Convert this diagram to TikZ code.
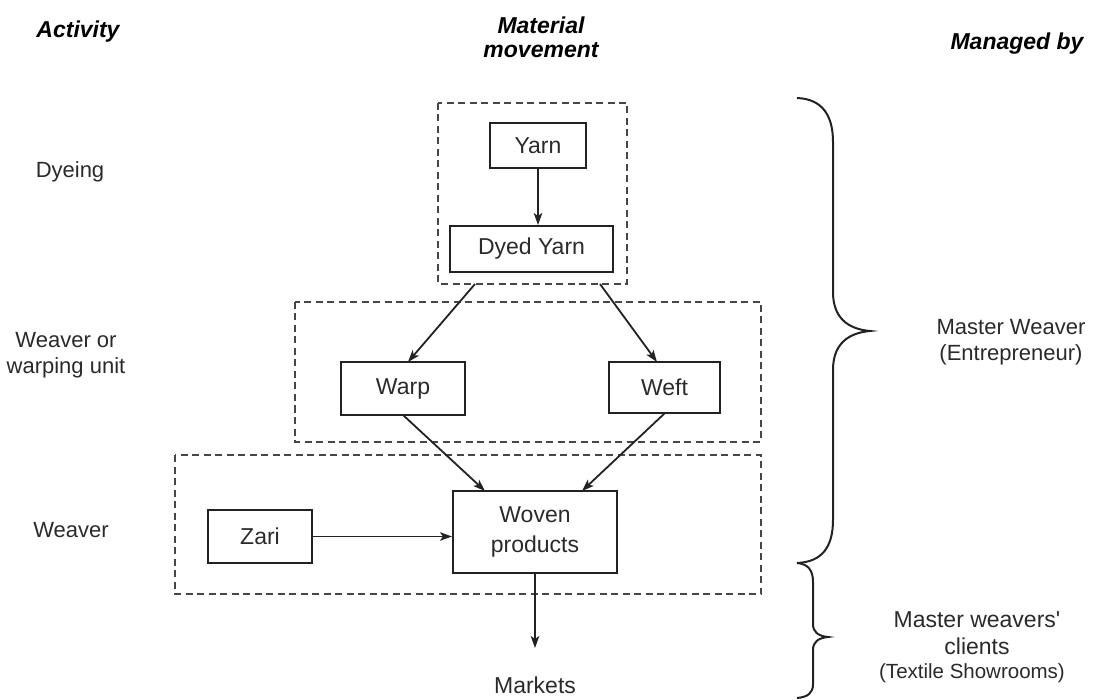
\documentclass[tikz,border=0pt]{standalone}
\usepackage{fontspec}
\setmainfont{Liberation Sans}
\newfontfamily\nomap{Liberation Sans}
\usetikzlibrary{arrows.meta}
\definecolor{ink}{HTML}{222222}
\definecolor{dashc}{HTML}{474747}
\definecolor{txt}{HTML}{2A2A2A}
\tikzset{
  box/.style={draw=ink, line width=2pt, inner sep=0pt, text=txt, font=\fontsize{23}{30}\selectfont, align=center},
  grp/.style={draw=dashc, line width=2pt, dash pattern=on 7pt off 4.5pt},
  arr/.style={draw=ink, line width=1.8pt, -{Stealth[length=12pt,width=8.5pt,inset=3pt]}},
  lbl/.style={text=txt, font=\fontsize{22}{26}\selectfont, align=center, inner sep=0pt},
  hdr/.style={text=black, font=\bfseries\itshape\fontsize{23}{24}\selectfont, align=center, inner sep=0pt},
  bracepath/.style={draw=ink, line width=2pt}
}
\begin{document}
\begin{tikzpicture}[x=1pt,y=-1pt]
\useasboundingbox (0,0) rectangle (1095,700);

% headers
\node[hdr] (hact) at (78,32) {Activity};
\node[hdr] (hmat) at (541,37) {Material\\movement};
\node[hdr] (hman) at (1017,44) {Managed by};

% activity labels
\node[lbl] (ldye) at (70,172) {Dyeing};
\node[lbl] (lwarp) at (66,355) {Weaver or\\warping unit};
\node[lbl] (lweav) at (71,530) {Weaver};

% group frames
\draw[grp] (438,103) rectangle (627,284);
\draw[grp] (295,302) rectangle (761,442);
\draw[grp] (175,455) rectangle (761,594);

% boxes
\node[box, minimum width=96pt, minimum height=45pt] (yarn) at (538,145.5) {Yarn};
\node[box, minimum width=163pt, minimum height=46pt] (dyed) at (531.5,249) {Dyed Yarn};
\node[box, minimum width=124pt, minimum height=53pt] (warp) at (403,388.5) {Warp};
\node[box, minimum width=111pt, minimum height=51pt] (weft) at (664.5,387.5) {Weft};
\node[box, minimum width=164pt, minimum height=82pt] (woven) at (535,532) {Woven\\products};
\node[box, minimum width=104pt, minimum height=53pt] (zari) at (260,536.5) {Zari};
\node[lbl, font=\fontsize{23}{26}\selectfont] (mkt) at (535,685) {Markets};

% connector end points
\coordinate (s1) at (475,284);
\coordinate (s2) at (600,284);
\coordinate (t1) at (408,362);
\coordinate (t2) at (657,362);
\coordinate (u1) at (403,415);
\coordinate (u2) at (665,413);
\coordinate (v1) at (485,491);
\coordinate (v2) at (582,491);
\coordinate (mtop) at (535,648);

% connectors
\draw[arr] (yarn.south) -- (dyed.north -| yarn.south);
\draw[arr] (s1) -- (t1);
\draw[arr] (s2) -- (t2);
\draw[arr] (u1) -- (v1);
\draw[arr] (u2) -- (v2);
\draw[arr] (zari.east) -- (zari.east -| woven.west);
\draw[arr] (woven.south) -- (mtop);

% braces
\draw[bracepath] (797,98) .. controls (822,99) and (833,115) .. (833,142)
  -- (833,292) .. controls (833,318) and (848,329) .. (870,331)
  .. controls (848,333) and (833,344) .. (833,370)
  -- (833,520) .. controls (833,547) and (822,562) .. (797,563);
\draw[bracepath] (797,563) .. controls (808,564) and (813,570) .. (813,582)
  -- (813,624) .. controls (813,632) and (818,636) .. (828,637)
  .. controls (818,638) and (813,642) .. (813,650)
  -- (813,684) .. controls (813,693) and (808,697) .. (797,698);

% managed-by labels
\node[lbl] (mw) at (1011,342) {Master Weaver\\(Entrepreneur)};
\node[lbl, font=\fontsize{23}{27}\selectfont] (mwc) at (977,633) {Master weavers{\nomap '}\\clients};
\node[lbl, font=\fontsize{20.5}{24}\selectfont] (mws) at (972,673) {(Textile Showrooms)};
\end{tikzpicture}
\end{document}
